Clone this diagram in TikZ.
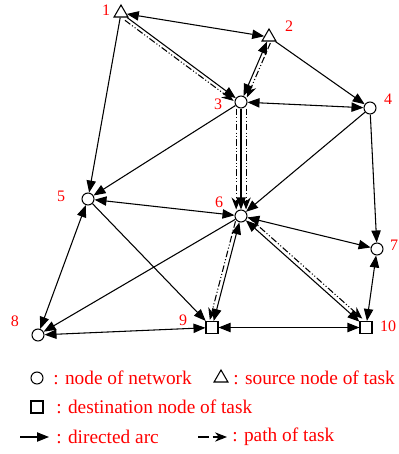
\documentclass[tikz,border=0pt]{standalone}
\usepackage{fontspec}
\setmainfont{Liberation Serif}
\usetikzlibrary{arrows.meta}
\usetikzlibrary{shapes.geometric}

\tikzset{
  netnode/.style={circle,draw,line width=0.8pt,fill=white,inner sep=0pt,minimum size=9pt},
  srcnode/.style={regular polygon,regular polygon sides=3,draw,line width=0.8pt,fill=white,inner sep=0pt,minimum size=12pt},
  dstnode/.style={rectangle,draw,line width=0.8pt,fill=white,inner sep=0pt,minimum size=9pt},
  numlabel/.style={text=red,inner sep=0pt,font=\fontsize{12}{14}\selectfont},
  legtext/.style={text=red,anchor=west,inner sep=0pt,font=\fontsize{14.5}{17}\selectfont},
  arc/.style={-{Triangle[length=9pt,width=7pt]},line width=0.8pt},
  biarc/.style={{Triangle[length=9pt,width=7pt]}-{Triangle[length=9pt,width=7pt]},line width=0.8pt},
  taskpath/.style={-{Stealth[length=9pt,width=7pt]},line width=0.8pt,
    dash pattern=on 5pt off 1.6pt on 0.8pt off 1.6pt on 0.8pt off 1.6pt}
}

\begin{document}
\begin{tikzpicture}[line cap=butt,line join=miter,x=0.75pt,y=-0.75pt]
\useasboundingbox (0,0) rectangle (399,454);
% nodes of the network
\node[srcnode] (n1) at (121,13) {};
\node[srcnode] (n2) at (269,37) {};
\node[netnode] (n3) at (241,102) {};
\node[netnode] (n4) at (370,108) {};
\node[netnode] (n5) at (88,199) {};
\node[netnode] (n6) at (241,216) {};
\node[netnode] (n7) at (377,249) {};
\node[netnode] (n8) at (38,335) {};
\node[dstnode] (n9) at (212,327.5) {};
\node[dstnode] (n10) at (366,327.5) {};
% numbers
\node[numlabel] (l1) at (106,10) {1};
\node[numlabel] (l2) at (289,26) {2};
\node[numlabel] (l3) at (218,104) {3};
\node[numlabel] (l4) at (388,99) {4};
\node[numlabel] (l5) at (61,196) {5};
\node[numlabel] (l6) at (219,202) {6};
\node[numlabel] (l7) at (394,245) {7};
\node[numlabel] (l8) at (15,321) {8};
\node[numlabel] (l9) at (183,320) {9};
\node[numlabel] (l10) at (388,326) {10};
% directed arcs
\draw[biarc] (n1) -- (n2);
\draw[arc] (n1) -- (n3);
\draw[arc] (n1) -- (n5);
\draw[biarc] (n2) -- (n3);
\draw[arc] (n2) -- (n4);
\draw[biarc] (n3) -- (n4);
\draw[arc] (n3) -- (n5);
\draw[arc] (n3) -- (n6);
\draw[arc] (n4) -- (n6);
\draw[arc] (n4) -- (n7);
\draw[biarc] (n5) -- (n6);
\draw[biarc] (n5) -- (n8);
\draw[arc] (n5) -- (n9);
\draw[arc] (n6) -- (n8);
\draw[biarc] (n6) -- (n9);
\draw[biarc] (n6) -- (n7);
\draw[biarc] (n6) -- (n10);
\draw[biarc] (n7) -- (n10);
\draw[biarc] (n8) -- (n9);
\draw[biarc] (n9) -- (n10);
% paths of task
\draw[taskpath,transform canvas={xshift=-1.6pt,yshift=-2.1pt}] (n1) -- (n3);
\draw[taskpath,transform canvas={xshift=2.5pt,yshift=-1.1pt}] (n2) -- (n3);
\draw[taskpath,transform canvas={xshift=-3.6pt}] (n3) -- (n6);
\draw[taskpath,transform canvas={xshift=3.8pt}] (n3) -- (n6);
\draw[taskpath,transform canvas={xshift=-2.9pt,yshift=0.8pt}] (n6) -- (n9);
\draw[taskpath,transform canvas={xshift=2.1pt,yshift=2.3pt}] (n6) -- (n10);
% legend
\node[netnode] (k1) at (37,378) {};
\node[legtext] (t1) at (53,378) {: node of network};
\node[srcnode] (k2) at (221,378) {};
\node[legtext] (t2) at (233,378) {: source node of task};
\node[dstnode] (k3) at (37,407) {};
\node[legtext] (t3) at (56,407) {: destination node of task};
\coordinate (a1) at (20,437);
\coordinate (b1) at (49,437);
\draw[arc] (a1) -- (b1);
\node[legtext] (t4) at (56,437) {: directed arc};
\coordinate (a2) at (198,437);
\coordinate (b2) at (227,437);
\draw[taskpath,dash pattern=on 8pt off 3pt] (a2) -- (b2);
\node[legtext] (t5) at (232,437) {: path of task};
\end{tikzpicture}
\end{document}
